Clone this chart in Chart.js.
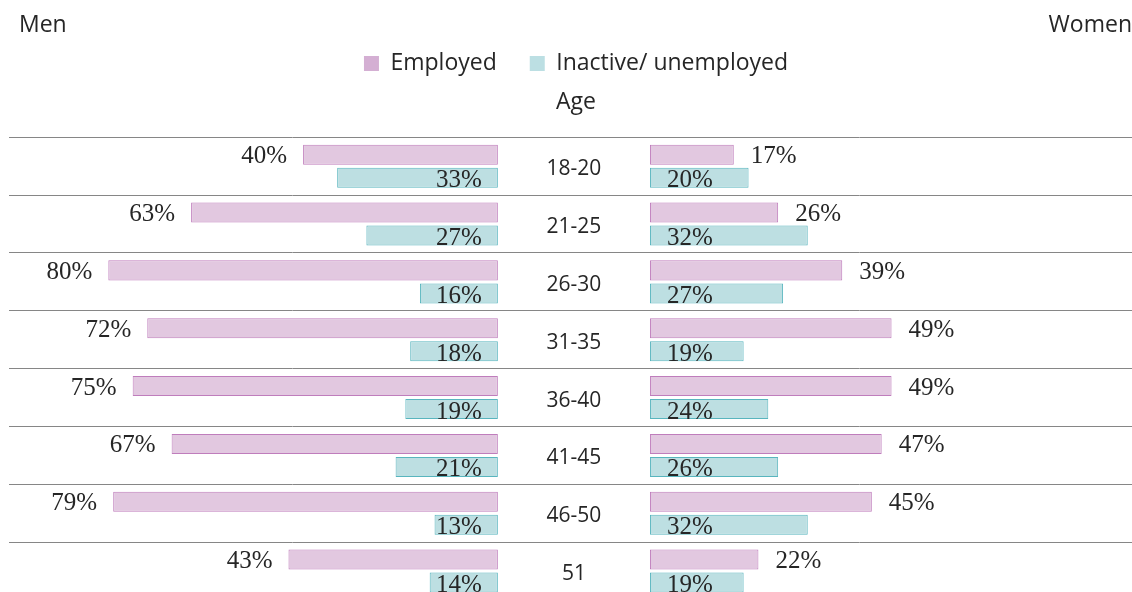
<!DOCTYPE html>
<html><head><meta charset="utf-8">
<script src="https://cdn.jsdelivr.net/npm/chart.js@4.4.1/dist/chart.umd.min.js"></script>
<style>
html,body{margin:0;padding:0;background:#fff;overflow:hidden;}
#wrap{position:relative;width:1143px;height:600px;}
</style></head><body>
<div id="wrap"><canvas id="c" width="1143" height="600"></canvas></div>
<script>
const ageGroups = ['18-20','21-25','26-30','31-35','36-40','41-45','46-50','51'];
const menEmployed = [40,63,80,72,75,67,79,43];
const menInactive = [33,27,16,18,19,21,13,14];
const womenEmployed = [17,26,39,49,49,47,45,22];
const womenInactive = [20,32,27,19,24,26,32,19];
const seriesNames = ['Employed','Inactive/ unemployed'];
const sideNames = ['Men','Women'];
const axisTitle = 'Age';

const empFill = '#e2c8e0', empBorder = '#bf7dbc', empLegend = '#d4afd3';
const inaFill = '#bddfe2', inaBorder = '#58b5be', inaLegend = '#bcdfe3';
const textColor = '#262626';

function ds(label, data, axis, stack, fill, border, side, kind) {
  return {label, data, xAxisID: axis, stack, backgroundColor: fill, borderColor: border,
    borderWidth: 1, borderSkipped: false, side, kind,
    categoryPercentage: 0.796, barPercentage: 0.87};
}

const overlay = {
  id: 'overlay',
  afterDatasetsDraw(chart) {
    const ctx = chart.ctx;
    const yS = chart.scales.y, xL = chart.scales.xL, xR = chart.scales.xR;
    ctx.save();
    ctx.fillStyle = textColor;
    ctx.textBaseline = 'middle';
    ctx.font = '25px "Liberation Serif"';
    chart.data.datasets.forEach((d, di) => {
      const meta = chart.getDatasetMeta(di);
      meta.data.forEach((bar, i) => {
        const p = bar.getProps(['x','base','y'], true);
        const txt = d.data[i] + '%';
        if (d.side === 'men') {
          ctx.textAlign = 'right';
          if (d.kind === 'emp') ctx.fillText(txt, p.x - 16, p.y + 2);
          else ctx.fillText(txt, p.base - 16, p.y + 3);
        } else {
          ctx.textAlign = 'left';
          if (d.kind === 'emp') ctx.fillText(txt, p.x + 17, p.y + 2);
          else ctx.fillText(txt, p.base + 17, p.y + 3);
        }
      });
    });
    ctx.font = '21px "Open Sans"';
    ctx.textAlign = 'center';
    const mid = (xL.getPixelForValue(0) + xR.getPixelForValue(0)) / 2;
    ageGroups.forEach((g, i) => {
      ctx.fillText(g, mid, yS.getPixelForValue(i) + 3);
    });
    ctx.font = '23px "Open Sans"';
    ctx.textAlign = 'left';
    ctx.fillText(sideNames[0], 19, 25);
    ctx.textAlign = 'right';
    ctx.fillText(sideNames[1], 1132, 25);
    ctx.restore();
  }
};

new Chart(document.getElementById('c'), {
  type: 'bar',
  data: {
    labels: ageGroups,
    datasets: [
      ds(seriesNames[0], menEmployed, 'xL', 'emp', empFill, empBorder, 'men', 'emp'),
      ds(seriesNames[1], menInactive, 'xL', 'ina', inaFill, inaBorder, 'men', 'ina'),
      ds(seriesNames[0], womenEmployed, 'xR', 'emp', empFill, empBorder, 'women', 'emp'),
      ds(seriesNames[1], womenInactive, 'xR', 'ina', inaFill, inaBorder, 'women', 'ina')
    ]
  },
  options: {
    indexAxis: 'y',
    responsive: false,
    animation: false,
    layout: {padding: {top: 19, left: 9, right: 0, bottom: 0}},
    scales: {
      y: {
        type: 'category',
        display: true,
        offset: true,
        ticks: {display: false},
        grid: {offset: true, color: '#868686', lineWidth: 1, drawTicks: false},
        border: {display: false}
      },
      xL: {type: 'linear', axis: 'x', position: 'bottom', reverse: true, min: -132.5, max: 100.4, stacked: false, display: false},
      xR: {type: 'linear', axis: 'x', position: 'bottom', min: -130, max: 100, stacked: false, display: false}
    },
    plugins: {
      legend: {
        position: 'top',
        align: 'center',
        labels: {
          font: {family: 'Open Sans', size: 23},
          color: textColor,
          boxWidth: 15,
          boxHeight: 15,
          padding: 33,
          generateLabels: () => seriesNames.map((n, i) => ({
            text: n, fillStyle: i === 0 ? empLegend : inaLegend,
            strokeStyle: i === 0 ? empLegend : inaLegend, lineWidth: 0,
            hidden: false, datasetIndex: i, fontColor: textColor
          }))
        }
      },
      subtitle: {
        display: true,
        text: axisTitle,
        weight: 500,
        color: textColor,
        font: {family: 'Open Sans', size: 23, weight: 'normal'},
        padding: {top: 4, bottom: 20.7}
      },
      title: {display: false},
      tooltip: {enabled: false}
    }
  },
  plugins: [overlay]
});
</script>
</body></html>
